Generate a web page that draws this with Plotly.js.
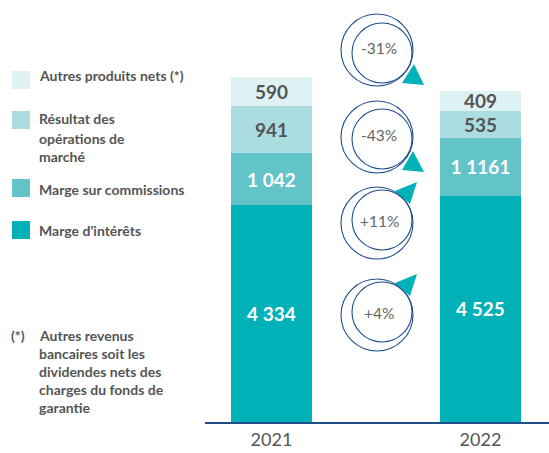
<!DOCTYPE html>
<html>
<head>
<meta charset="utf-8">
<script src="https://cdn.plot.ly/plotly-3.0.1.min.js"></script>
<style>html,body{margin:0;padding:0;background:#fff;}#chart{width:549px;height:453px;}</style>
</head>
<body>
<div id="chart"></div>
<script>
// ---- data ----
const years = ['2021', '2022'];
const margeInterets = [4334, 4525];
const margeCommissions = [1042, 1161];
const resultatMarche = [941, 535];
const autresProduits = [590, 409];
const labelsInterets = ['4 334', '4 525'];
const labelsCommissions = ['1 042', '1 1161'];
const labelsMarche = ['941', '535'];
const labelsAutres = ['590', '409'];
const seriesNames = ["Marge d'intérêts", 'Marge sur commissions', 'Résultat des opérations de marché', 'Autres produits nets (*)'];
const legendLines = [["Marge d'intérêts"], ['Marge sur commissions'], ['Résultat des', 'opérations de', 'marché'], ['Autres produits nets (*)']];
const evolutionLabels = ['+4%', '+11%', '-43%', '-31%'];
const footnoteLines = ['Autres revenus', 'bancaires soit les', 'dividendes nets des', 'charges du fonds de', 'garantie'];

// ---- style ----
const colors = ['#00B2B8', '#62C3C8', '#AADCE0', '#DEF1F3'];
const textColors = ['#ffffff', '#ffffff', '#555555', '#555555'];
const W = 549, H = 453;
const M = {l: 205, r: 0, t: 10, b: 31};
const PW = W - M.l - M.r, PH = H - M.t - M.b;
const px = x => (x - M.l) / PW;
const py = y => (H - M.b - y) / PH;
const FONT = 'Lato, "Open Sans", sans-serif';

const values = [margeInterets, margeCommissions, resultatMarche, autresProduits];
const labels = [labelsInterets, labelsCommissions, labelsMarche, labelsAutres];

const traces = values.map((v, i) => ({
  type: 'bar', x: years, y: v, name: seriesNames[i],
  width: [0.388, 0.388],
  marker: {color: colors[i], line: {width: 0}},
  text: labels[i], textposition: 'inside', insidetextanchor: 'middle',
  textangle: 0, constraintext: 'none',
  textfont: {family: FONT, size: 19, color: textColors[i], weight: 700},
  hoverinfo: 'skip', showlegend: false
}));

const shapes = [];
const annotations = [];
const lblFont = {family: FONT, size: 14, color: '#555555', weight: 700};

// legend (custom)
const swatchY = [230, 188, 120, 80];
const textY = [[230], [189], [118, 138, 157], [75]];
for (let i = 0; i < 4; i++) {
  shapes.push({type: 'rect', xref: 'paper', yref: 'paper', x0: px(12), x1: px(30), y0: py(swatchY[i] + 9), y1: py(swatchY[i] - 9), fillcolor: colors[i], line: {width: 0}});
  legendLines[i].forEach((t, k) => {
    annotations.push({xref: 'paper', yref: 'paper', x: px(37), y: py(textY[i][k]), xanchor: 'left', yanchor: 'middle', text: t, showarrow: false, font: lblFont});
  });
}
// footnote
annotations.push({xref: 'paper', yref: 'paper', x: px(9), y: py(335), xanchor: 'left', yanchor: 'middle', text: '(*)', showarrow: false, font: lblFont});
const fnY = [335, 353, 371, 389, 407];
footnoteLines.forEach((t, k) => {
  annotations.push({xref: 'paper', yref: 'paper', x: px(37), y: py(fnY[k]), xanchor: 'left', yanchor: 'middle', text: t, showarrow: false, font: lblFont});
});

// evolution bubbles (bottom to top: +4%, +11%, -43%, -31%)
const bubY = [315, 223, 137, 50];
const innerDy = [-3, -3, 2, 3];
const tri = [
  [[395, 283], [417, 274], [410, 296]],
  [[395, 191], [417, 182], [410, 204]],
  [[402, 170], [424, 172], [413, 151]],
  [[402, 83], [424, 85], [414, 64]]
];
const blue = '#1F4E8C';
for (let i = 0; i < 4; i++) {
  const cx = 377, cy = bubY[i], r = 36;
  shapes.push({type: 'circle', xref: 'paper', yref: 'paper', x0: px(cx - r), x1: px(cx + r), y0: py(cy + r), y1: py(cy - r), line: {color: blue, width: 1.1}});
  const ix = 382, iy = cy + innerDy[i], ir = 30;
  shapes.push({type: 'circle', xref: 'paper', yref: 'paper', x0: px(ix - ir), x1: px(ix + ir), y0: py(iy + ir), y1: py(iy - ir), line: {color: blue, width: 1.1}});
  const t = tri[i];
  shapes.push({type: 'path', xref: 'paper', yref: 'paper', path: `M ${px(t[0][0])} ${py(t[0][1])} L ${px(t[1][0])} ${py(t[1][1])} L ${px(t[2][0])} ${py(t[2][1])} Z`, fillcolor: '#00B2B8', line: {width: 0}});
  annotations.push({xref: 'paper', yref: 'paper', x: px(379), y: py(cy - 2), xanchor: 'center', yanchor: 'middle', text: evolutionLabels[i], showarrow: false, font: {family: FONT, size: 15.5, color: '#666666'}});
}

const layout = {
  width: W, height: H,
  margin: M,
  paper_bgcolor: '#ffffff', plot_bgcolor: 'rgba(0,0,0,0)',
  barmode: 'stack',
  showlegend: false,
  uniformtext: {mode: 'show', minsize: 19},
  xaxis: {type: 'category', range: [-0.318, 1.328], showline: true, linecolor: blue, linewidth: 2, ticks: '', showgrid: false, zeroline: false, tickfont: {family: FONT, size: 18, color: '#555555'}, fixedrange: true},
  yaxis: {range: [0, PH / 0.05], visible: false, showgrid: false, zeroline: false, fixedrange: true},
  shapes: shapes,
  annotations: annotations
};

Plotly.newPlot('chart', traces, layout, {displayModeBar: false, staticPlot: true});
</script>
</body>
</html>
